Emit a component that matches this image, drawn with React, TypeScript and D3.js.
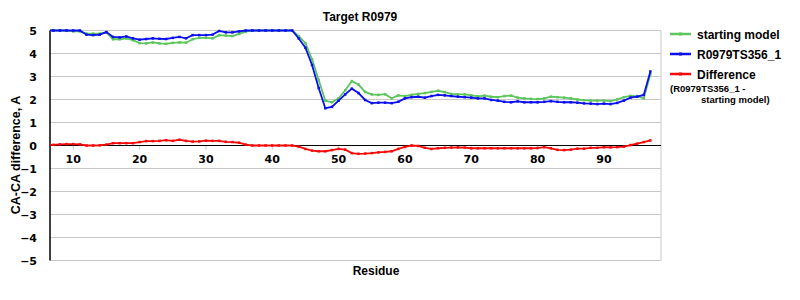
import React from "react";
import * as d3 from "d3";

const residues: number[] = d3.range(6, 98);

const startingModel: number[] = [
  5, 5, 5, 5, 4.96, 4.96, 4.86, 4.86, 4.86, 4.92,
  4.62, 4.62, 4.66, 4.58, 4.45, 4.44, 4.48, 4.44, 4.42, 4.46,
  4.48, 4.47, 4.62, 4.68, 4.68, 4.66, 4.8, 4.78, 4.76, 4.85,
  4.95, 5, 5, 5, 5, 5, 5, 5, 4.75, 4.45,
  3.75, 2.85, 1.95, 1.88, 2.05, 2.4, 2.8, 2.65, 2.33, 2.22,
  2.2, 2.23, 2.05, 2.18, 2.15, 2.2, 2.24, 2.28, 2.33, 2.38,
  2.32, 2.24, 2.22, 2.22, 2.18, 2.14, 2.17, 2.12, 2.1, 2.15,
  2.17, 2.08, 2.05, 2.03, 2.02, 2.05, 2.12, 2.1, 2.08, 2.05,
  2.0, 1.97, 1.95, 1.95, 1.95, 1.93, 2.0, 2.1, 2.16, 2.15,
  2.05, 3.1,
];

const model: number[] = [
  5, 5, 5, 5, 5, 5, 4.82, 4.8, 4.82, 4.93,
  4.72, 4.7, 4.74, 4.66, 4.6, 4.63, 4.66, 4.64, 4.63, 4.68,
  4.72, 4.66, 4.8, 4.8, 4.8, 4.82, 4.98, 4.92, 4.92, 4.96,
  5, 5, 5, 5, 5, 5, 5, 5, 4.65, 4.25,
  3.5, 2.5, 1.62, 1.68, 1.95, 2.22, 2.47, 2.28, 1.98, 1.84,
  1.86, 1.86, 1.84, 1.9, 2.05, 2.1, 2.12, 2.08, 2.15, 2.2,
  2.18, 2.15, 2.12, 2.1, 2.08, 2.05, 2.05, 1.98, 1.95, 1.9,
  1.88, 1.92, 1.88, 1.88, 1.88, 1.9, 1.93, 1.9, 1.88, 1.88,
  1.86, 1.83, 1.82, 1.8, 1.82, 1.8, 1.85, 1.95, 2.08, 2.12,
  2.2, 3.22,
];

const difference: number[] = [
  0.03, 0.03, 0.05, 0.06, 0.06, 0.05, 0.0, 0.0, 0.01, 0.04,
  0.1, 0.1, 0.1, 0.1, 0.15, 0.19, 0.19, 0.2, 0.23, 0.2,
  0.25, 0.2, 0.17, 0.18, 0.21, 0.2, 0.2, 0.16, 0.15, 0.12,
  0.04, 0, 0, 0, 0, 0, 0, 0, -0.05, -0.15,
  -0.22, -0.25, -0.25, -0.2, -0.15, -0.18, -0.33, -0.36, -0.35, -0.33,
  -0.3, -0.28, -0.25, -0.15, -0.06, 0.0, -0.02, -0.1, -0.15, -0.12,
  -0.1, -0.09, -0.08, -0.09, -0.12, -0.12, -0.12, -0.12, -0.12, -0.12,
  -0.12, -0.12, -0.12, -0.12, -0.11, -0.07, -0.12, -0.19, -0.2, -0.18,
  -0.14, -0.14, -0.1, -0.1, -0.07, -0.08, -0.07, -0.05, 0.02, 0.08,
  0.15, 0.22,
];

const xTicks: number[] = [10, 20, 30, 40, 50, 60, 70, 80, 90];
const yTicks: number[] = [5, 4, 3, 2, 1, 0, -1, -2, -3, -4, -5];

const title = "Target R0979";
const xLabel = "Residue";
const yLabel = "CA-CA difference, A";

const series = [
  { name: "starting model", values: startingModel, color: "#5cc55c" },
  { name: "R0979TS356_1", values: model, color: "#0a10ee" },
  { name: "Difference", values: difference, color: "#f50a0a" },
];

export default function App() {
  const W = 800, H = 300;
  const left = 50, right = 661, top = 30.5, bottom = 260.5;
  const x = d3.scaleLinear().domain([6.5, 98.6]).range([left, right]);
  const y = d3.scaleLinear().domain([-5, 5]).range([bottom, top]);
  const line = d3
    .line<number>()
    .x((_, i) => x(residues[i]))
    .y((d) => y(d));
  const tickFont = "'DejaVu Sans', sans-serif";
  const labFont = "'Liberation Sans', Arial, sans-serif";

  return (
    <svg
      width={W}
      height={H}
      style={{ position: "absolute", left: 0, top: 0, background: "#fff" }}
    >
      <defs>
        <clipPath id="plotclip">
          <rect x={left} y={top - 3} width={right - left} height={bottom - top + 6} />
        </clipPath>
      </defs>
      {yTicks.map((t) => (
        <line
          key={"g" + t}
          x1={left}
          x2={right}
          y1={y(t)}
          y2={y(t)}
          stroke="#c8c8c8"
          strokeWidth={1}
        />
      ))}
      <line x1={right} x2={right} y1={top} y2={bottom} stroke="#c8c8c8" strokeWidth={1} />
      {xTicks.map((t) => (
        <line
          key={"xt" + t}
          x1={x(t)}
          x2={x(t)}
          y1={y(0)}
          y2={y(0) + 4}
          stroke="#c8c8c8"
          strokeWidth={1}
        />
      ))}
      <line x1={left} x2={right} y1={y(0)} y2={y(0)} stroke="#000" strokeWidth={1} />
      <line x1={left} x2={left} y1={top} y2={bottom} stroke="#000" strokeWidth={1.5} />
      {yTicks.map((t) => (
        <text
          key={"yl" + t}
          x={37}
          y={y(t) + 4}
          textAnchor="end"
          fontFamily={tickFont}
          fontWeight="bold"
          fontSize={11}
          fill="#000"
        >
          {t < 0 ? "\u2212" + Math.abs(t) : String(t)}
        </text>
      ))}
      {xTicks.map((t) => (
        <text
          key={"xl" + t}
          x={x(t)}
          y={y(0) + 17}
          textAnchor="middle"
          fontFamily={tickFont}
          fontWeight="bold"
          fontSize={11}
          fill="#000"
        >
          {t}
        </text>
      ))}
      <g clipPath="url(#plotclip)">
        {series.map((s) => (
          <g key={s.name}>
            <path d={line(s.values) || ""} fill="none" stroke={s.color} strokeWidth={1.8} />
            {s.values.map((v, i) => (
              <rect
                key={i}
                x={x(residues[i]) - 1.25}
                y={y(v) - 1.25}
                width={2.5}
                height={2.5}
                fill={s.color}
              />
            ))}
          </g>
        ))}
      </g>
      <text
        x={360}
        y={21}
        textAnchor="middle"
        fontFamily={labFont}
        fontWeight="bold"
        fontSize={12}
      >
        {title}
      </text>
      <text
        x={376}
        y={275}
        textAnchor="middle"
        fontFamily={labFont}
        fontWeight="bold"
        fontSize={12}
      >
        {xLabel}
      </text>
      <text
        transform={`translate(20,155) rotate(-90)`}
        textAnchor="middle"
        fontFamily={labFont}
        fontWeight="bold"
        fontSize={12.5}
      >
        {yLabel}
      </text>
      {series.map((s, i) => (
        <g key={"lg" + s.name} transform={`translate(670,${34 + i * 20})`}>
          <line x1={0} x2={21} y1={0} y2={0} stroke={s.color} strokeWidth={2.5} />
          <rect x={9} y={-1.5} width={3} height={3} fill={s.color} />
          <text x={27} y={4.5} fontFamily={labFont} fontWeight="bold" fontSize={12}>
            {s.name}
          </text>
        </g>
      ))}
      <text x={670} y={92} fontFamily={labFont} fontWeight="bold" fontSize={9.5}>
        (R0979TS356_1 -
      </text>
      <text x={701} y={103} fontFamily={labFont} fontWeight="bold" fontSize={9.5}>
        starting model)
      </text>
    </svg>
  );
}
